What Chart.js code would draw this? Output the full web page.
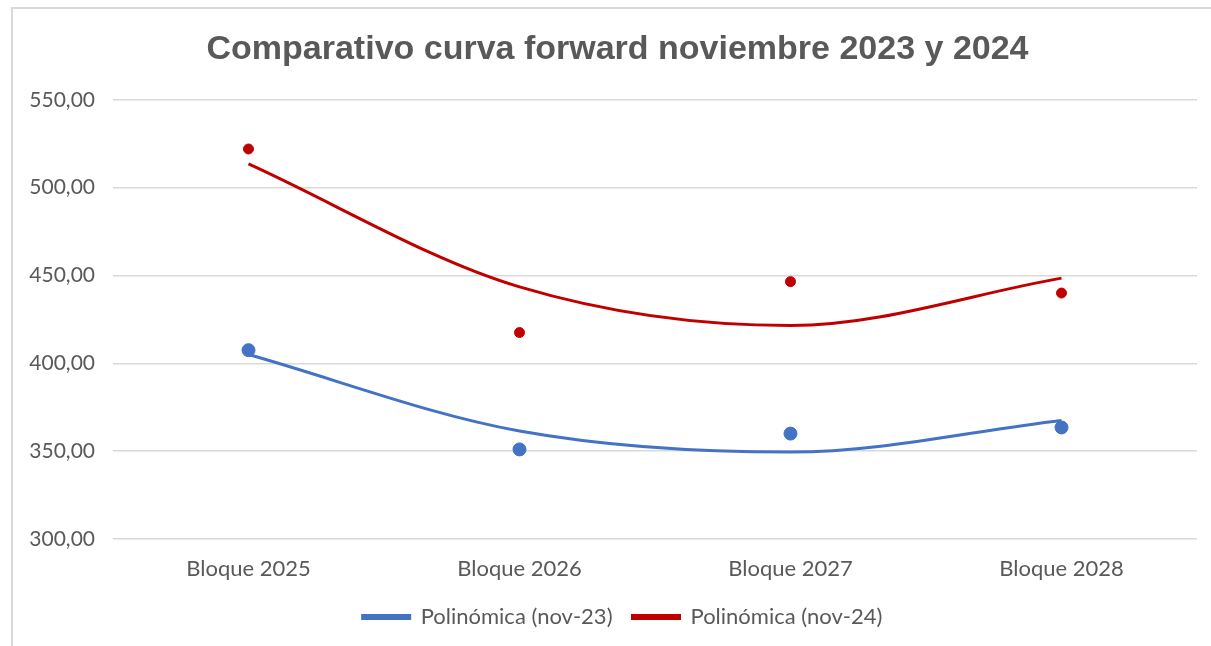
<!DOCTYPE html>
<html>
<head>
<meta charset="utf-8">
<script src="https://cdn.jsdelivr.net/npm/chart.js@4.4.1/dist/chart.umd.min.js"></script>
<style>
  body { margin: 0; background: #fff; }
  #wrap { position: relative; width: 1211px; height: 646px; }
  #frame { position: absolute; left: 11px; top: 7px; width: 1220px; height: 660px; border-left: 2px solid #d9d9d9; border-top: 2px solid #d9d9d9; }
  canvas { position: absolute; left: 0; top: 0; }
</style>
</head>
<body>
<div id="wrap">
  <div id="frame"></div>
  <canvas id="myChart" width="1211" height="646"></canvas>
</div>
<script>
// categorias y valores
var bloques = ['Bloque 2025', 'Bloque 2026', 'Bloque 2027', 'Bloque 2028'];
var nov23 = [407.5, 351, 360, 363.5];
var nov24 = [522, 417.5, 446.5, 440];
var tendNov23 = [405, 361.5, 349.5, 367.5];
var tendNov24 = [513.5, 443.5, 421.5, 448.5];
var yTicks = [300, 350, 400, 450, 500, 550];

var gris = '#595959';
var azul = '#4472C4';
var rojo = '#C00000';
var fuente = 'Lato, "Noto Sans", sans-serif';

// en excel el titulo y la leyenda quedan un poco a la derecha
var mover = {
    id: 'mover',
    afterLayout: function(chart) {
        chart.titleBlock.left += 19;
        chart.titleBlock.right += 19;
        chart.legend.left += 24;
        chart.legend.right += 24;
    }
};

var ctx = document.getElementById('myChart').getContext('2d');

var myChart = new Chart(ctx, {
    type: 'line',
    data: {
        labels: bloques,
        datasets: [{
                label: 'nov-23',
                data: nov23,
                showLine: false,
                pointRadius: 6.5,
                pointBackgroundColor: azul,
                pointBorderColor: azul,
                borderColor: azul
            },
            {
                label: 'nov-24',
                data: nov24,
                showLine: false,
                pointRadius: 5,
                pointBackgroundColor: rojo,
                pointBorderColor: rojo,
                borderColor: rojo
            },
            {
                label: 'Polinómica (nov-23)',
                data: tendNov23,
                borderColor: azul,
                backgroundColor: azul,
                borderWidth: 3,
                pointRadius: 0,
                cubicInterpolationMode: 'monotone',
                fill: false
            },
            {
                label: 'Polinómica (nov-24)',
                data: tendNov24,
                borderColor: rojo,
                backgroundColor: rojo,
                borderWidth: 3,
                pointRadius: 0,
                cubicInterpolationMode: 'monotone',
                fill: false
            }
        ]
    },
    options: {
        responsive: false,
        animation: false,
        layout: {
            padding: { left: 0, right: 14, top: 0, bottom: 8 }
        },
        plugins: {
            title: {
                display: true,
                text: 'Comparativo curva forward noviembre 2023 y 2024',
                color: gris,
                font: { family: '"Liberation Sans", Arial, sans-serif', size: 34, weight: 'bold' },
                padding: { top: 29, bottom: 30 }
            },
            legend: {
                position: 'bottom',
                labels: {
                    filter: function(item) { return item.datasetIndex > 1; },
                    color: gris,
                    font: { family: fuente, size: 22 },
                    boxWidth: 47,
                    boxHeight: 3,
                    padding: 20
                }
            },
            tooltip: { enabled: false }
        },
        scales: {
            x: {
                offset: true,
                grid: { display: false, drawTicks: false },
                border: { display: false },
                ticks: {
                    color: gris,
                    font: { family: fuente, size: 22 },
                    padding: 17
                },
                afterFit: function(scale) { scale.height = 47; }
            },
            y: {
                min: 300,
                max: 550,
                afterBuildTicks: function(scale) {
                    scale.ticks = yTicks.map(function(v) { return { value: v }; });
                },
                grid: { color: '#d9d9d9', lineWidth: 1.5, drawTicks: false },
                border: { display: false },
                ticks: {
                    color: gris,
                    font: { family: fuente, size: 21 },
                    padding: 18,
                    callback: function(v) { return v.toFixed(2).replace('.', ','); }
                },
                afterFit: function(scale) { scale.width = 113; }
            }
        }
    },
    plugins: [mover]
});
</script>
</body>
</html>
